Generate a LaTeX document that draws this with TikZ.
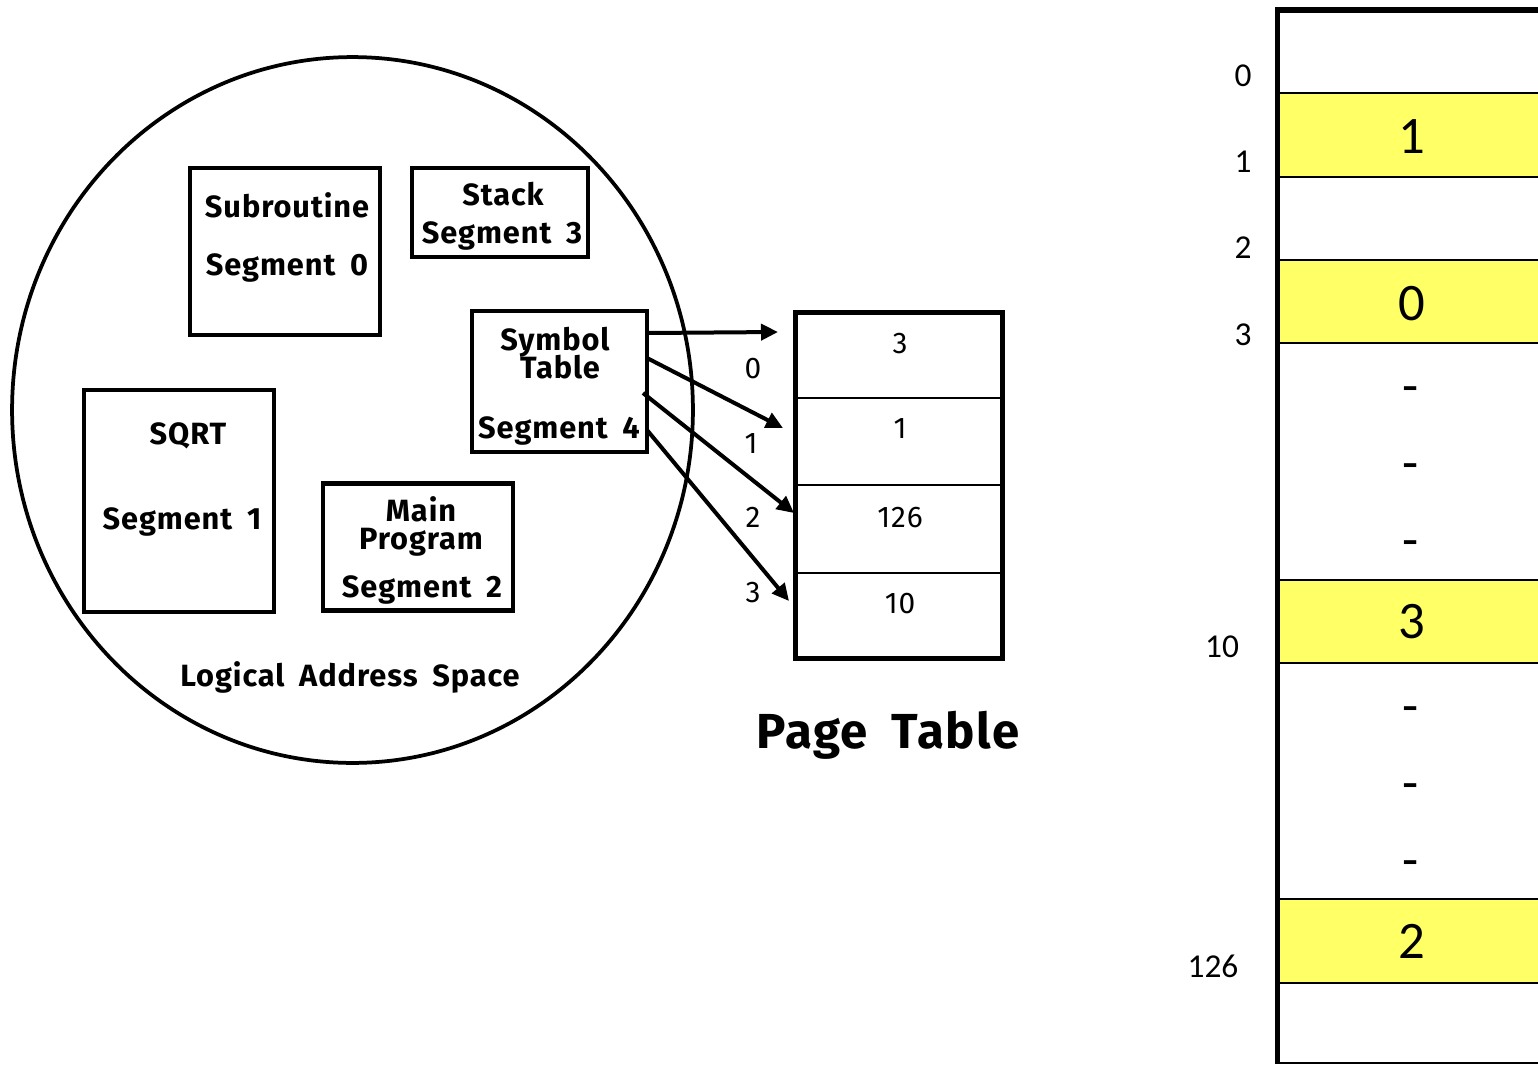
\documentclass[tikz,border=0pt]{standalone}
\usepackage{fontspec}
\newfontfamily\handfont[LetterSpace=3,WordSpace=1.8]{Fira Sans}
\newfontfamily\slidefont{Carlito}
\usepackage{tikz}
\usetikzlibrary{shapes.geometric,arrows.meta}
\definecolor{cellyellow}{RGB}{255,255,102}

\begin{document}
\begin{tikzpicture}[x=0.02cm,y=-0.02cm,
  every node/.style={inner sep=0pt,outer sep=0pt},
  segbox/.style={draw,line width=0.09cm},
  seglabel/.style={anchor=base,font=\handfont\bfseries\fontsize{17.5}{20}\selectfont},
  ptlabel/.style={anchor=base,font=\handfont\fontsize{17}{20}\selectfont},
  memlabel/.style={anchor=base,font=\slidefont\fontsize{19}{22}\selectfont},
  memframe/.style={anchor=base,font=\slidefont\fontsize{30}{34}\selectfont}]

  \useasboundingbox (0,0) rectangle (1538,1065);
  \clip (0,0) rectangle (1538,1065);

  % Specification of the logical address space (segments)
  \node[draw,ellipse,line width=0.075cm,minimum width=13.62cm,minimum height=14.12cm] (space) at (352.5,410) {};
  \node[segbox,minimum width=3.8cm,minimum height=3.34cm] (sub) at (285,251.5) {};
  \node[segbox,minimum width=3.52cm,minimum height=1.78cm] (stack) at (500,212.5) {};
  \node[segbox,minimum width=3.5cm,minimum height=2.82cm] (sym) at (559.5,381.5) {};
  \node[segbox,minimum width=3.8cm,minimum height=4.44cm] (sqrt) at (179,501) {};
  \node[segbox,minimum width=3.8cm,minimum height=2.54cm] (main) at (418,547) {};

  \node[seglabel] (subname) at (287,217) {Subroutine};
  \node[seglabel] (subseg) at (287,275) {Segment 0};
  \node[seglabel] (stackname) at (503,205) {Stack};
  \node[seglabel] (stackseg) at (502,243) {Segment 3};
  \node[seglabel] (symname) at (555,350) {Symbol};
  \node[seglabel] (symname2) at (560,378) {Table};
  \node[seglabel] (symseg) at (559,438) {Segment 4};
  \node[seglabel] (sqrtname) at (188,444) {SQRT};
  \node[seglabel] (sqrtseg) at (182,529) {Segment 1};
  \node[seglabel] (mainname) at (421,521) {Main};
  \node[seglabel] (mainname2) at (421,549) {Program};
  \node[seglabel] (mainseg) at (422,597) {Segment 2};
  \node[seglabel] (spacename) at (350,686) {Logical Address Space};

  % Page table
  \node[draw,line width=0.1cm,minimum width=4.16cm,minimum height=6.94cm] (ptab) at (899,485.5) {};
  \foreach \y in {398,485,573}
    \draw[line width=0.04cm] (795,\y) -- (1003,\y);
  \node[ptlabel] (pt0) at (900,353) {3};
  \node[ptlabel] (pt1) at (900,438) {1};
  \node[ptlabel] (pt2) at (900,527) {126};
  \node[ptlabel] (pt3) at (900,613) {10};
  \node[ptlabel] (idx0) at (753,378) {0};
  \node[ptlabel] (idx1) at (751,453) {1};
  \node[ptlabel] (idx2) at (753,527) {2};
  \node[ptlabel] (idx3) at (753,602) {3};
  \node[anchor=base,font=\handfont\bfseries\fontsize{28}{32}\selectfont] (ptname) at (888,748) {Page Table};

  \coordinate (in0) at (778,332);
  \coordinate (in1) at (783,428);
  \coordinate (in2) at (794,513);
  \coordinate (in3) at (789,601);

  \begin{scope}[line width=0.08cm,-{Triangle[length=0.34cm,width=0.32cm]}]
    \draw ([yshift=0.97cm]sym.east) -- (in0);
    \draw ([yshift=0.47cm]sym.east) -- (in1);
    \draw ([xshift=-0.08cm,yshift=-0.23cm]sym.east) -- (in2);
    \draw ([yshift=-0.97cm]sym.east) -- (in3);
  \end{scope}

  % Physical memory
  \foreach \top/\bot in {93/177,260/343,580/663,899/983}
    \fill[cellyellow] (1278,\top) rectangle (1560,\bot);
  \foreach \y in {93,177,260,343,580,663,899,983,1063}
    \draw[line width=0.045cm] (1278,\y) -- (1560,\y);
  \draw[line width=0.11cm] (1560,10) -- (1277.5,10) -- (1277.5,1064);

  \node[memlabel] (addr0) at (1243,86) {0};
  \node[memlabel] (addr1) at (1243,172) {1};
  \node[memlabel] (addr2) at (1243,258) {2};
  \node[memlabel] (addr3) at (1243,345) {3};
  \node[memlabel] (addr10) at (1222,657) {10};
  \node[memlabel] (addr126) at (1213,977) {126};

  \node[memframe] (frame1) at (1412,153) {1};
  \node[memframe] (frame0) at (1412,320) {0};
  \node[memframe] (frame3) at (1412,638) {3};
  \node[memframe] (frame2) at (1412,958) {2};
  \foreach \y [count=\i] in {388,465,542,708,785,862}
    \node[memframe] (gap\i) at (1411,\y+15) {-};

\end{tikzpicture}
\end{document}
